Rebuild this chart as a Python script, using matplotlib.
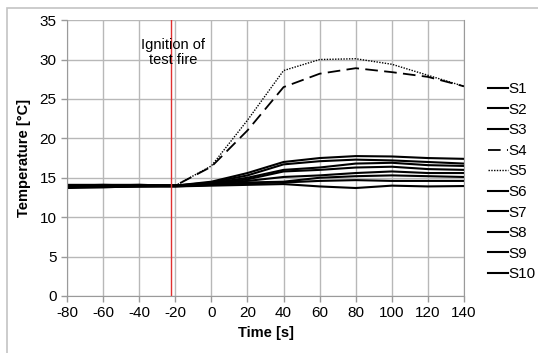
import matplotlib
matplotlib.use("Agg")
import matplotlib.pyplot as plt
from matplotlib.patches import Rectangle

plt.rcParams["font.family"] = ["Liberation Sans", "DejaVu Sans"]
plt.rcParams["axes.unicode_minus"] = False

time = [-80, -60, -40, -20, 0, 20, 40, 60, 80, 100, 120, 140]

s1 = [14.1, 14.1, 14.1, 14.0, 14.5, 15.6, 17.0, 17.5, 17.75, 17.7, 17.5, 17.4]
s2 = [14.0, 14.1, 14.0, 14.0, 14.4, 15.3, 16.7, 17.1, 17.3, 17.2, 17.0, 16.8]
s3 = [13.9, 14.0, 14.0, 14.0, 14.3, 15.0, 16.0, 16.3, 16.8, 16.9, 16.6, 16.5]
s4 = [13.9, 13.9, 14.0, 14.0, 16.4, 21.0, 26.5, 28.2, 28.9, 28.4, 27.8, 26.6]
s5 = [13.8, 13.9, 14.0, 14.0, 16.5, 22.3, 28.6, 30.0, 30.1, 29.4, 28.0, 26.6]
s6 = [14.0, 14.0, 14.1, 14.0, 14.2, 14.8, 15.8, 16.0, 16.3, 16.4, 16.1, 16.0]
s7 = [13.9, 14.0, 14.0, 14.0, 14.2, 14.6, 15.1, 15.3, 15.6, 15.8, 15.6, 15.6]
s8 = [13.8, 13.9, 13.9, 14.0, 14.1, 14.4, 14.5, 15.0, 15.2, 15.3, 15.2, 15.1]
s9 = [13.8, 13.8, 13.9, 13.9, 14.1, 14.3, 14.4, 14.6, 14.7, 14.6, 14.6, 14.6]
s10 = [13.7, 13.8, 13.9, 13.9, 14.0, 14.1, 14.2, 13.9, 13.7, 14.0, 13.9, 13.95]

series = [("S1", s1), ("S2", s2), ("S3", s3), ("S4", s4), ("S5", s5),
          ("S6", s6), ("S7", s7), ("S8", s8), ("S9", s9), ("S10", s10)]
ignition_time = -22.5

fig = plt.figure(figsize=(5.38, 3.53), dpi=100)
ax = fig.add_axes([0.1245, 0.1615, 0.738, 0.7815])

for name, vals in series:
    if name == "S4":
        ax.plot(time, vals, color="black", lw=1.3, dashes=(7, 3.5), label=name)
    elif name == "S5":
        ax.plot(time, vals, color="black", lw=1.0, ls=(0, (1, 1)), label=name)
    else:
        ax.plot(time, vals, color="black", lw=1.5, label=name)

ax.axvline(ignition_time, color="#e03030", lw=1.0)
ax.text(ignition_time + 1.5, 30.9, "Ignition of\ntest fire", ha="center", va="center",
        fontsize=10.5, linespacing=1.05)

ax.set_xlim(-80, 140)
ax.set_ylim(0, 35)
ax.set_xticks(range(-80, 141, 20))
ax.set_yticks(range(0, 36, 5))
ax.grid(True, color="#b8b8b8", lw=1.0)
ax.set_axisbelow(True)
for side in ["left", "bottom", "right"]:
    ax.spines[side].set_color("#9a9a9a")
ax.spines["top"].set_visible(False)
ax.tick_params(colors="#9a9a9a", labelcolor="black", labelsize=11, length=4, width=1.0)
ax.set_xlabel("Time [s]", fontsize=10.5, fontweight="bold", labelpad=4)
ax.set_ylabel("Temperature [°C]", fontsize=10.5, fontweight="bold", labelpad=6)

ax.legend(loc="upper left", bbox_to_anchor=(1.06, 0.775), frameon=False, fontsize=11,
          handlelength=1.3, handletextpad=0.05, labelspacing=0.43, borderaxespad=0,
          borderpad=0)

fig.patches.append(Rectangle((7 / 538, -0.05), 1.2, 1 - 8 / 353 + 0.05, transform=fig.transFigure,
                             fill=False, edgecolor="#c4c4c4", lw=1.2))

fig.savefig("out.png", dpi=100)
